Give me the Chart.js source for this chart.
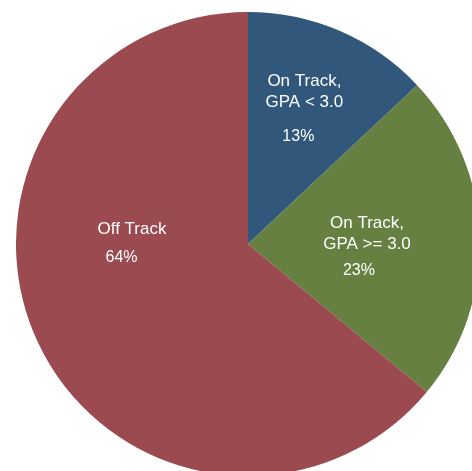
<!DOCTYPE html>
<html>
<head>
<meta charset="utf-8">
<script src="https://cdn.jsdelivr.net/npm/chart.js@4/dist/chart.umd.min.js"></script>
<style>
    html, body { margin:0; padding:0; width:472px; height:471px; overflow:hidden; background:#fff; }
    #wrap { position:absolute; left:16px; top:12px; width:464px; height:464px; }
</style>
</head>
<body>
<div id="wrap"><canvas id="pieChart" width="464" height="464"></canvas></div>
<script>
const categories = [["On Track,", "GPA < 3.0"], ["On Track,", "GPA >= 3.0"], ["Off Track"]];
const shares = [13, 23, 64];
const sliceColors = ['#31587b', '#658040', '#9b4a4f'];

// label spots, as fractions of the radius from the centre (name block, percent)
const labelSpots = [
    { name:[0.243,-0.657], pct:[0.217,-0.465] },
    { name:[0.513,-0.043], pct:[0.478, 0.113] },
    { name:[-0.50,-0.065], pct:[-0.545,0.058] }
];

const sliceLabels = {
    id:'sliceLabels',
    afterDatasetsDraw(chart) {
        const ctx = chart.ctx;
        const arcs = chart.getDatasetMeta(0).data;
        ctx.save();
        ctx.fillStyle = '#ffffff';
        ctx.textAlign = 'center';
        ctx.textBaseline = 'middle';
        arcs.forEach((arc, i) => {
            const {x, y, outerRadius} = arc.getProps(['x','y','outerRadius'], true);
            const spot = labelSpots[i];
            const lines = categories[i];
            const lh = 21;
            ctx.font = '17px "Liberation Sans", Arial, sans-serif';
            const nx = x + spot.name[0]*outerRadius;
            const ny = y + spot.name[1]*outerRadius - (lines.length-1)*lh/2;
            lines.forEach((t, k) => ctx.fillText(t, nx, ny + k*lh));
            ctx.font = '16px "Liberation Sans", Arial, sans-serif';
            ctx.fillText(shares[i] + '%', x + spot.pct[0]*outerRadius, y + spot.pct[1]*outerRadius);
        });
        ctx.restore();
    }
};

new Chart(document.getElementById('pieChart'), {
    type:'pie',
    data:{
        labels: categories.map(c => c.join(' ')),
        datasets:[{
            data: shares,
            backgroundColor: sliceColors,
            borderWidth: 0
        }]
    },
    options:{
        responsive:false,
        animation:false,
        layout:{padding:0},
        plugins:{legend:{display:false}, tooltip:{enabled:false}}
    },
    plugins:[sliceLabels]
});
</script>
</body>
</html>
